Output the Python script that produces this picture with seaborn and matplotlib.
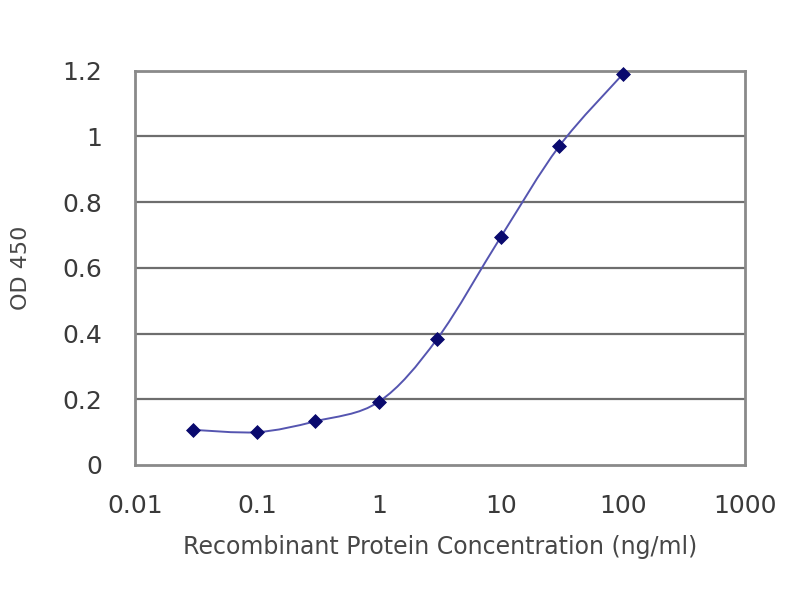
import numpy as np
import pandas as pd
import matplotlib
matplotlib.use("Agg")
import matplotlib.pyplot as plt
import seaborn as sns
from matplotlib.path import Path
from matplotlib.patches import PathPatch

conc = [0.03, 0.1, 0.3, 1, 3, 10, 30, 100]
od450 = [0.107, 0.100, 0.133, 0.193, 0.384, 0.695, 0.970, 1.190]
x_ticks = [0.01, 0.1, 1, 10, 100, 1000]
x_labels = ["0.01", "0.1", "1", "10", "100", "1000"]
y_ticks = [0, 0.2, 0.4, 0.6, 0.8, 1, 1.2]
y_labels = ["0", "0.2", "0.4", "0.6", "0.8", "1", "1.2"]


def smooth_path(xs, ys):
    # Excel-style smoothed line: Catmull-Rom as cubic bezier in log-x space
    lx = np.log10(xs)
    ys = np.asarray(ys, dtype=float)
    pts = np.column_stack([lx, ys])
    verts = [pts[0]]
    codes = [Path.MOVETO]
    n = len(pts)
    for i in range(n - 1):
        p0 = pts[max(i - 1, 0)]
        p1 = pts[i]
        p2 = pts[i + 1]
        p3 = pts[min(i + 2, n - 1)]
        c1 = p1 + (p2 - p0) / 6.0
        c2 = p2 - (p3 - p1) / 6.0
        verts += [c1, c2, p2]
        codes += [Path.CURVE4] * 3
    verts = np.array(verts)
    verts[:, 0] = 10 ** verts[:, 0]
    return Path(verts, codes)


df = pd.DataFrame({"conc": conc, "od": od450})

sns.set_style("white")
plt.rcParams["font.family"] = ["DejaVu Sans"]

fig = plt.figure(figsize=(8, 6), dpi=100)
ax = fig.add_axes([0.169, 0.225, 0.762, 0.657])
ax.set_xscale("log")
ax.set_xlim(0.01, 1000)
ax.set_ylim(0, 1.2)

for y in y_ticks[1:]:
    ax.axhline(y, color="#6e6e6e", lw=1.6, zorder=1)

patch = PathPatch(smooth_path(conc, od450), facecolor="none",
                  edgecolor="#5555b0", lw=1.4, transform=ax.transData, zorder=2)
ax.add_patch(patch)

sns.scatterplot(data=df, x="conc", y="od", ax=ax, marker="D", s=50,
                color="#0a0a6e", edgecolor="#0a0a6e", zorder=3, clip_on=False)

ax.set_xticks(x_ticks)
ax.set_xticklabels(x_labels)
ax.xaxis.set_minor_locator(matplotlib.ticker.NullLocator())
ax.set_yticks(y_ticks)
ax.set_yticklabels(y_labels)
ax.tick_params(axis="x", direction="in", length=4, width=1, color="#888888",
               labelsize=18, labelcolor="#3a3a3a", pad=21)
ax.tick_params(axis="y", direction="out", length=4, width=1, color="#888888",
               labelsize=18, labelcolor="#3a3a3a", pad=20)

for s in ax.spines.values():
    s.set_color("#8a8a8a")
    s.set_linewidth(2)
    s.set_visible(True)

ax.set_xlabel("Recombinant Protein Concentration (ng/ml)", fontsize=17,
              color="#474747", labelpad=12)
ax.set_ylabel("OD 450", fontsize=16, color="#474747", labelpad=22)

fig.savefig("out.png", dpi=100)
